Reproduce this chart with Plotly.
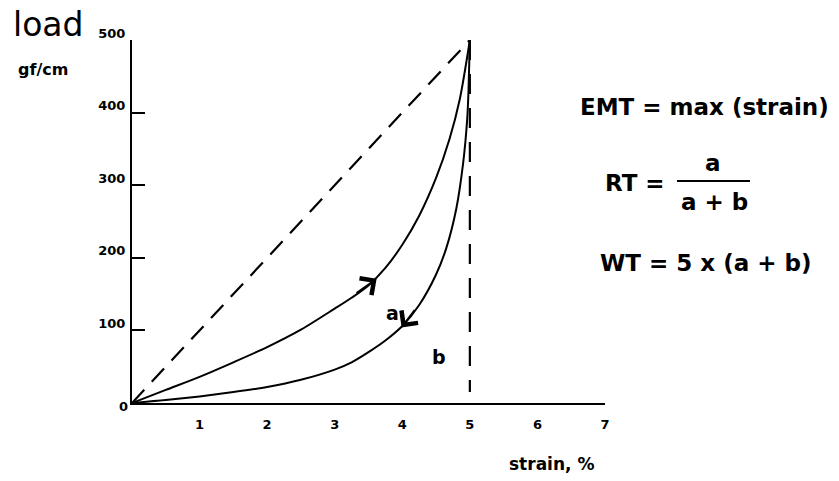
import plotly.graph_objects as go

# ---- data ----
loading_strain = [0, 0.5, 1.0, 1.5, 2.0, 2.5, 3.0, 3.25, 3.5, 3.75, 4.0, 4.25, 4.5, 4.7, 4.85, 5.0]
loading_load = [0, 18, 36, 56, 77, 101, 130, 145, 162, 186, 218, 258, 310, 364, 418, 500]

unloading_strain = [0, 0.5, 1.0, 1.5, 2.0, 2.5, 3.0, 3.25, 3.5, 3.75, 4.0, 4.25, 4.5, 4.65, 4.8, 4.9, 4.96, 4.98, 5.0]
unloading_load = [0, 4, 9, 15, 22, 32, 46, 56, 70, 86, 106, 135, 177, 213, 268, 330, 390, 430, 500]

diag_strain = [0, 5]
diag_load = [0, 500]
vert_strain = [5, 5]
vert_load = [500, 15]

x_ticks = [1, 2, 3, 4, 5, 6, 7]
y_ticks = [0, 100, 200, 300, 400, 500]

# arrows: (tip strain, tip load, tail strain, tail load)
up_arrow = (3.62, 171, 3.3, 150)
down_arrow = (3.99, 104, 4.2, 130)

label_a = (3.85, 124)
label_b = (4.55, 63)

BLACK = "#000000"
fig = go.Figure()

fig.add_trace(go.Scatter(x=loading_strain, y=loading_load, mode="lines",
                         line=dict(color=BLACK, width=2, shape="spline", smoothing=0.8),
                         hoverinfo="skip"))
fig.add_trace(go.Scatter(x=unloading_strain, y=unloading_load, mode="lines",
                         line=dict(color=BLACK, width=2, shape="spline", smoothing=0.7),
                         hoverinfo="skip"))
fig.add_trace(go.Scatter(x=diag_strain, y=diag_load, mode="lines",
                         line=dict(color=BLACK, width=2.2, dash="18px,11px"),
                         hoverinfo="skip"))
fig.add_trace(go.Scatter(x=vert_strain, y=vert_load, mode="lines",
                         line=dict(color=BLACK, width=2.2, dash="20px,14px"),
                         hoverinfo="skip"))

for tip_x, tip_y, tail_x, tail_y in (up_arrow, down_arrow):
    fig.add_annotation(x=tip_x, y=tip_y, ax=tail_x, ay=tail_y, xref="x", yref="y",
                       axref="x", ayref="y", text="", showarrow=True,
                       arrowhead=4, arrowsize=2, arrowwidth=2, arrowcolor=BLACK)

bold_font = "DejaVu Sans"
fig.add_annotation(x=label_a[0], y=label_a[1], xref="x", yref="y", text="a",
                   xanchor="center", yanchor="middle", showarrow=False,
                   font=dict(family=bold_font, size=19, color=BLACK, weight="bold"))
fig.add_annotation(x=label_b[0], y=label_b[1], xref="x", yref="y", text="b",
                   xanchor="center", yanchor="middle", showarrow=False,
                   font=dict(family=bold_font, size=19, color=BLACK, weight="bold"))

# pixel -> paper helpers for free-standing text (plot area 132..605 x 40..403)
L, R, T, B = 132, 605, 40, 403


def px_x(p):
    return (p - L) / float(R - L)


def px_y(p):
    return (B - p) / float(B - T)


def add_text(text, cx, cy, size, weight="bold", family=bold_font):
    fig.add_annotation(x=px_x(cx), y=px_y(cy), xref="paper", yref="paper", text=text,
                       xanchor="center", yanchor="middle", showarrow=False,
                       font=dict(family=family, size=size, color=BLACK, weight=weight))


add_text("load", 48, 24, 33, weight="normal")
add_text("gf/cm", 43, 69, 16)
add_text("strain, %", 551, 464, 17)

# "0" label of the y axis sits just below the origin
fig.add_annotation(x=px_x(123), y=y_ticks[0], xref="paper", yref="y", text=str(y_ticks[0]),
                   xanchor="center", yanchor="middle", yshift=-3, showarrow=False,
                   font=dict(family=bold_font, size=13, color=BLACK, weight="bold"))

# equations
add_text("EMT = max (strain)", 704, 107, 23)
add_text("RT =", 635, 183, 23)
add_text("a", 713, 163, 23)
add_text("a + b", 714, 202, 23)
fig.add_shape(type="line", xref="paper", yref="paper",
              x0=px_x(677), x1=px_x(750), y0=px_y(181), y1=px_y(181),
              line=dict(color=BLACK, width=2))
add_text("WT = 5 x (a + b)", 706, 263, 23)

tick_font = dict(family=bold_font, size=13, color=BLACK, weight="bold")
fig.update_xaxes(range=[0, 7], tickvals=x_ticks, ticktext=[str(v) for v in x_ticks],
                 showgrid=False, zeroline=False, showline=True, linecolor=BLACK, linewidth=2,
                 ticks="", ticklabelstandoff=8, tickfont=tick_font, fixedrange=True)
fig.update_yaxes(range=[0, 500], tickvals=y_ticks[1:], ticktext=[str(v) for v in y_ticks[1:]],
                 showgrid=False, zeroline=False, showline=True, linecolor=BLACK, linewidth=2,
                 ticks="inside", ticklen=13, tickwidth=2, tickcolor=BLACK,
                 ticklabelstandoff=2, ticklabelshift=-7, tickfont=tick_font, fixedrange=True)

fig.update_layout(width=839, height=481, showlegend=False,
                  margin=dict(l=L, r=839 - R, t=T, b=481 - B),
                  paper_bgcolor="white", plot_bgcolor="white")

fig.write_html("out.html", config={"displayModeBar": False},
               post_script="document.body.style.margin='0px';")
